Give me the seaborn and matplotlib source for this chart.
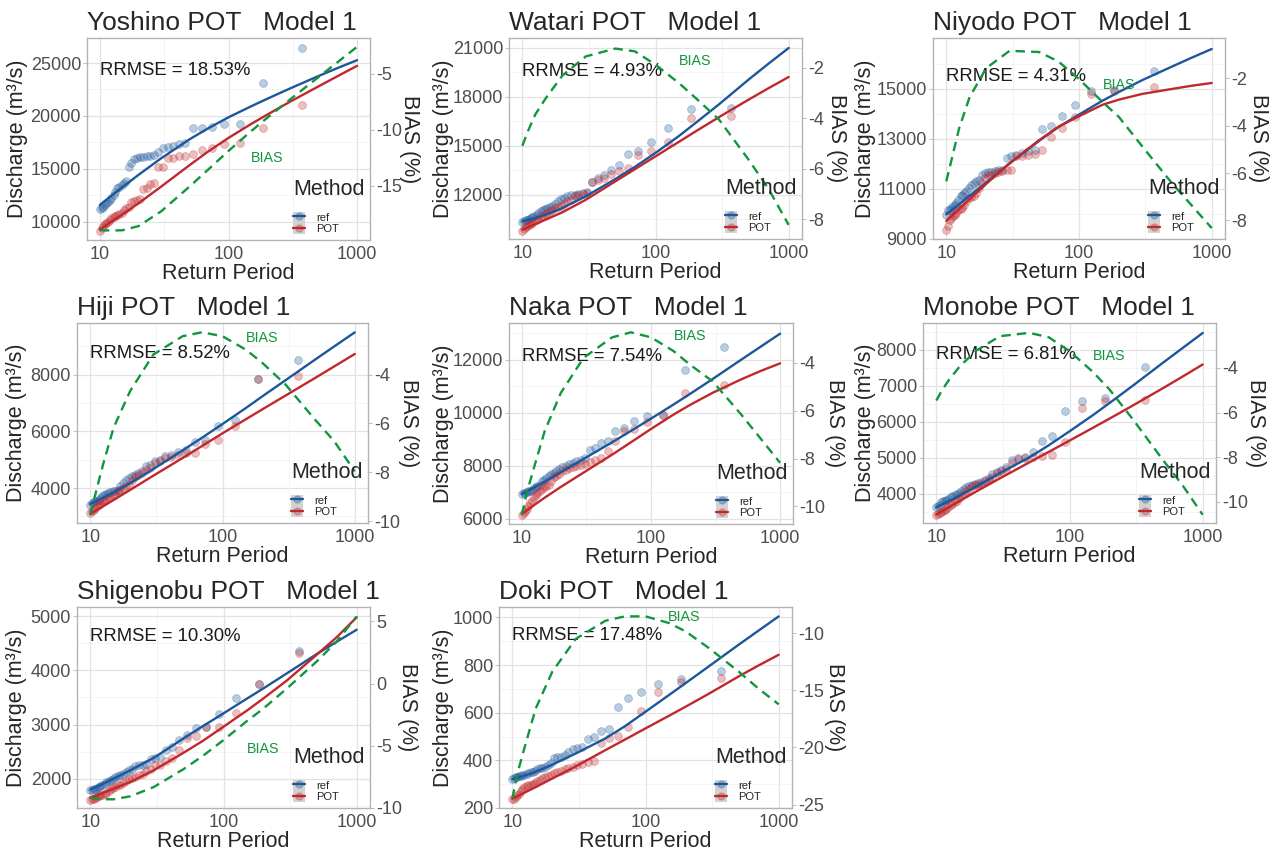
import matplotlib
matplotlib.use("Agg")
import matplotlib.pyplot as plt
import matplotlib.transforms as mtrans
from matplotlib.colors import to_rgba
from matplotlib.lines import Line2D
from matplotlib.patches import Patch
from matplotlib.ticker import FixedLocator, NullFormatter
import seaborn as sns

# return periods of the plotted POT sample (largest event first)
T_PTS = [370, 185, 123.3, 92.5, 74, 61.7, 52.9, 46.3, 41.1, 37, 33.6, 30.8, 28.5,
         26.4, 24.7, 23.1, 21.8, 20.6, 19.5, 18.5, 17.6, 16.8, 16.1, 15.4, 14.8,
         14.2, 13.7, 13.2, 12.8, 12.3, 11.9, 11.6, 11.2, 10.9, 10.6, 10.3, 10.0]
# return periods where the fitted curves were read
T_FIT = [10, 12.5, 15, 20, 30, 50, 70, 100, 150, 200, 300, 500, 700, 1000]
T_BIAS = [10, 11, 12.5, 15, 20, 30, 50, 70, 100, 150, 200, 300, 500, 700, 1000]

# Yoshino
yoshino_ref_pts = [26400, 23100, 19250, 19200, 18940, 18840, 18840, 17480, 17360, 17200, 17100, 17000, 16630,
                   16300, 16250, 16200, 16160, 16100, 16000, 15900, 15530, 15200, 13800, 13630, 13470,
                   13320, 13160, 12840, 12530, 12210, 12050, 11900, 11740, 11580, 11420, 11260, 11170]
yoshino_pot_pts = [21050, 18900, 17420, 17330, 16950, 16790, 16410, 16250, 16220, 16060, 16000, 15210, 15150,
                   13630, 13540, 13160, 13100, 12150, 12050, 11990, 11900, 11360, 11260, 11100, 10850,
                   10730, 10630, 10540, 10410, 10320, 10160, 10000, 9900, 9780, 9590, 9370, 9150]
yoshino_ref_fit = [11580, 12520, 13270, 14430, 16000, 17800, 18850, 19870, 20910, 21620, 22590, 23770,
                   24515, 25275]
yoshino_pot_fit = [9270, 10050, 10680, 11740, 13320, 15360, 16660, 17920, 19240, 20120, 21335, 22790,
                   23740, 24740]
yoshino_bias = [-18.93, -18.96, -18.98, -18.95, -18.58, -17.26, -15.04, -13.51, -11.88, -10.12, -8.93,
                -7.31, -5.31, -4.0, -2.6]

# Watari
watari_ref_pts = [17317, 17255, 16090, 15210, 14660, 14515, 13800, 13530, 13230, 13020, 12760, 12140, 12100,
                  12040, 12000, 11960, 11900, 11800, 11730, 11590, 11450, 11330, 11240, 11180, 11120,
                  11040, 10980, 10875, 10770, 10670, 10630, 10570, 10530, 10470, 10430, 10360, 10300]
watari_pot_pts = [16800, 16700, 15210, 14660, 14450, 13640, 13430, 13290, 13020, 12920, 12760, 12100, 12040,
                  11960, 11900, 11690, 11590, 11450, 11330, 11240, 11180, 11080, 10980, 10875, 10810,
                  10710, 10630, 10570, 10470, 10360, 10260, 10220, 10160, 10060, 10000, 9890, 9790]
watari_ref_fit = [10360, 10560, 10770, 11180, 11900, 12960, 13705, 14560, 15600, 16400, 17545, 19060,
                  20015, 21000]
watari_pot_fit = [9850, 10190, 10470, 10920, 11690, 12820, 13563, 14350, 15244, 15880, 16760, 17830,
                  18516, 19220]
watari_bias = [-5.09, -4.52, -3.85, -3.2, -2.3, -1.54, -1.23, -1.34, -1.87, -2.6, -3.19, -4.05, -5.64,
               -6.77, -8.23]

# Niyodo
niyodo_ref_pts = [15700, 14950, 14900, 14370, 13900, 13500, 13400, 12570, 12500, 12440, 12370, 12330, 12240,
                  11770, 11750, 11700, 11680, 11670, 11640, 11570, 11370, 11300, 11240, 11170, 11040,
                  10910, 10840, 10770, 10710, 10570, 10440, 10370, 10310, 10240, 10170, 10150, 9970]
niyodo_pot_pts = [15065, 14900, 14810, 13880, 13440, 13080, 12550, 12410, 12370, 12330, 12300, 11770, 11750,
                  11700, 11670, 11640, 11570, 11550, 11440, 11240, 11040, 10840, 10710, 10670, 10640,
                  10510, 10370, 10240, 10200, 10170, 10040, 9970, 9910, 9840, 9770, 9530, 9350]
niyodo_ref_fit = [9973, 10383, 10720, 11253, 12013, 12919, 13474, 13972, 14526, 14879, 15354, 15892,
                  16242, 16600]
niyodo_pot_fit = [9706, 10191, 10586, 11200, 12026, 12946, 13486, 13906, 14364, 14572, 14801, 14998,
                  15125, 15238]
niyodo_bias = [-6.35, -5.41, -4.11, -2.8, -1.58, -0.85, -0.9, -1.3, -2.04, -3.0, -3.64, -4.88, -6.42,
               -7.34, -8.32]

# Hiji
hiji_ref_pts = [8530, 7845, 6410, 6175, 5680, 5640, 5330, 5270, 5175, 5120, 5000, 4940, 4820,
                4760, 4590, 4530, 4450, 4410, 4350, 4290, 4180, 4060, 3940, 3910, 3880,
                3860, 3820, 3790, 3765, 3710, 3650, 3590, 3550, 3530, 3510, 3470, 3410]
hiji_pot_pts = [7940, 7830, 6175, 5705, 5560, 5235, 5235, 5175, 5090, 5060, 4940, 4880, 4700,
                4650, 4530, 4470, 4380, 4290, 4120, 4060, 4000, 3940, 3880, 3790, 3740,
                3670, 3650, 3590, 3550, 3530, 3470, 3410, 3350, 3290, 3240, 3180, 3120]
hiji_ref_fit = [3435, 3658, 3847, 4165, 4670, 5329, 5774, 6258, 6821, 7234, 7806, 8528, 8998, 9492]
hiji_pot_fit = [3080, 3354, 3576, 3930, 4435, 5060, 5482, 5930, 6425, 6775, 7264, 7880, 8292, 8730]
hiji_bias = [-9.73, -8.84, -7.68, -6.18, -4.68, -3.18, -2.43, -2.27, -2.43, -2.98, -3.52, -4.41, -5.84,
             -6.73, -7.96]

# Naka
naka_ref_pts = [12475, 11620, 9930, 9865, 9680, 9430, 9300, 8925, 8860, 8670, 8590, 8300, 8230,
                8170, 8110, 8070, 8010, 7945, 7880, 7795, 7730, 7690, 7630, 7545, 7480,
                7420, 7290, 7230, 7190, 7170, 7100, 7065, 7040, 7015, 6980, 6980, 6950]
naka_pot_pts = [11060, 10740, 9900, 9650, 9400, 9300, 8925, 8550, 8300, 8230, 8150, 8080, 8050,
                7980, 7945, 7920, 7860, 7795, 7690, 7605, 7580, 7420, 7290, 7255, 7190,
                7140, 7065, 6980, 6915, 6815, 6690, 6600, 6475, 6390, 6290, 6225, 6160]
naka_ref_fit = [6940, 7192, 7405, 7757, 8259, 8887, 9318, 9778, 10315, 10706, 11269, 11999, 12474, 12978]
naka_pot_fit = [6190, 6530, 6800, 7205, 7745, 8422, 8889, 9390, 9936, 10292, 10750, 11258, 11565, 11860]
naka_bias = [-10.35, -9.37, -8.32, -6.86, -5.26, -3.79, -2.93, -2.72, -2.93, -3.51, -4.07, -4.77, -6.16,
             -7.14, -8.18]

# Monobe
monobe_ref_pts = [7510, 6660, 6587, 6290, 5617, 5460, 5155, 5016, 4998, 4950, 4740, 4675, 4610,
                  4565, 4445, 4400, 4330, 4305, 4277, 4260, 4230, 4185, 4150, 4075, 4030,
                  4000, 3980, 3935, 3910, 3870, 3840, 3815, 3800, 3780, 3705, 3660, 3630]
monobe_pot_pts = [6596, 6587, 6383, 5440, 5070, 5060, 5030, 4998, 4970, 4860, 4690, 4630, 4580,
                  4460, 4400, 4350, 4290, 4260, 4240, 4210, 4150, 4075, 4000, 3935, 3890,
                  3815, 3780, 3720, 3685, 3630, 3590, 3565, 3540, 3500, 3475, 3445, 3430]
monobe_ref_fit = [3630, 3810, 3960, 4210, 4580, 5016, 5352, 5737, 6186, 6522, 7006, 7630, 8034, 8462]
monobe_pot_fit = [3430, 3639, 3809, 4072, 4433, 4877, 5169, 5479, 5835, 6090, 6456, 6927, 7245, 7589]
monobe_bias = [-5.46, -5.01, -4.52, -3.93, -3.22, -2.58, -2.43, -2.63, -3.25, -4.18, -4.97, -6.31, -8.1,
               -9.22, -10.57]

# Shigenobu
shigenobu_ref_pts = [4363, 3750, 3497, 3194, 2946, 2928, 2804, 2711, 2588, 2526, 2402, 2384, 2371,
                     2278, 2260, 2247, 2229, 2186, 2155, 2124, 2093, 2062, 2050, 2031, 2000,
                     1981, 1950, 1938, 1907, 1876, 1864, 1845, 1827, 1814, 1802, 1796, 1783]
shigenobu_pot_pts = [4320, 3750, 3206, 2946, 2946, 2792, 2742, 2526, 2384, 2322, 2260, 2247, 2186,
                     2136, 2093, 2062, 2031, 2012, 1988, 1950, 1926, 1889, 1876, 1845, 1827,
                     1802, 1765, 1740, 1722, 1703, 1690, 1672, 1660, 1641, 1629, 1616, 1610]
shigenobu_ref_fit = [1796, 1908, 2000, 2155, 2384, 2742, 2970, 3206, 3479, 3670, 3948, 4301, 4523, 4753]
shigenobu_pot_fit = [1647, 1738, 1814, 1938, 2155, 2476, 2698, 2959, 3258, 3485, 3816, 4289, 4603, 4982]
shigenobu_bias = [-9.17, -9.25, -9.3, -9.3, -9.06, -8.31, -6.88, -5.81, -4.54, -3.01, -1.99, -0.38, 1.77,
                  3.33, 5.4]

# Doki
doki_ref_pts = [775, 740, 719, 688, 663, 625, 530, 524, 499, 489, 457, 450, 447,
                436, 422, 415, 412, 408, 387, 380, 373, 368, 366, 363, 354,
                352, 349, 345, 342, 340, 338, 335, 333, 331, 328, 324, 321]
doki_pot_pts = [745, 730, 688, 608, 541, 502, 492, 471, 398, 394, 384, 380, 373,
                368, 363, 354, 352, 345, 340, 335, 330, 324, 319, 312, 307,
                302, 298, 295, 291, 287, 281, 270, 260, 253, 246, 239, 236]
doki_ref_fit = [321, 337, 352, 382, 429, 492, 543, 604, 674, 724, 795, 885, 943, 1004]
doki_pot_fit = [239, 266, 288, 324, 375, 443, 487, 534, 587, 625, 680, 752, 797, 843]
doki_bias = [-24.47, -22.13, -19.8, -16.58, -13.36, -10.5, -8.92, -8.54, -8.54, -9.12, -9.85, -11.32,
             -13.36, -14.82, -16.23]

STATIONS = ["Yoshino", "Watari", "Niyodo", "Hiji", "Naka", "Monobe", "Shigenobu", "Doki"]
RRMSE = ["18.53%", "4.93%", "4.31%", "8.52%", "7.54%", "6.81%", "10.30%", "17.48%"]
Y_TICKS = [[10000, 15000, 20000, 25000], [12000, 15000, 18000, 21000], [9000, 11000, 13000, 15000],
           [4000, 6000, 8000], [6000, 8000, 10000, 12000], [4000, 5000, 6000, 7000, 8000],
           [2000, 3000, 4000, 5000], [200, 400, 600, 800, 1000]]
Y2_TICKS = [[-15, -10, -5], [-8, -6, -4, -2], [-8, -6, -4, -2], [-10, -8, -6, -4], [-10, -8, -6, -4],
            [-10, -8, -6, -4], [-10, -5, 0, 5], [-25, -20, -15, -10]]

data = {
    "Yoshino": (yoshino_ref_pts, yoshino_pot_pts, yoshino_ref_fit, yoshino_pot_fit, yoshino_bias),
    "Watari": (watari_ref_pts, watari_pot_pts, watari_ref_fit, watari_pot_fit, watari_bias),
    "Niyodo": (niyodo_ref_pts, niyodo_pot_pts, niyodo_ref_fit, niyodo_pot_fit, niyodo_bias),
    "Hiji": (hiji_ref_pts, hiji_pot_pts, hiji_ref_fit, hiji_pot_fit, hiji_bias),
    "Naka": (naka_ref_pts, naka_pot_pts, naka_ref_fit, naka_pot_fit, naka_bias),
    "Monobe": (monobe_ref_pts, monobe_pot_pts, monobe_ref_fit, monobe_pot_fit, monobe_bias),
    "Shigenobu": (shigenobu_ref_pts, shigenobu_pot_pts, shigenobu_ref_fit, shigenobu_pot_fit, shigenobu_bias),
    "Doki": (doki_ref_pts, doki_pot_pts, doki_ref_fit, doki_pot_fit, doki_bias),
}

# layout in pixels: panel box (l, r, t, b), ylabel x, y2label x, axis limits, text positions
LAYOUT = {
    "Yoshino": dict(box=(87, 370, 38, 240), ylab=18, y2lab=410, ylim=(8263, 27370), y2lim=(-19.82, -1.82),
                    rr_y=0.84, bias_xy=(200, 16000)),
    "Watari": dict(box=(509, 802, 38, 239), ylab=443, y2lab=836, ylim=(9280, 21612), y2lim=(-8.79, -0.81),
                   rr_y=0.834, bias_xy=(200, 20220)),
    "Niyodo": dict(box=(933, 1225, 38, 239), ylab=865, y2lab=1258, ylim=(8990, 17040), y2lim=(-8.78, -0.31),
                   rr_y=0.806, bias_xy=(200, 15170)),
    "Hiji": dict(box=(77, 368, 323, 523), ylab=17, y2lab=409, ylim=(2765, 9823), y2lim=(-10.07, -1.89),
                 rr_y=0.845, bias_xy=(200, 9290)),
    "Naka": dict(box=(509, 793, 323, 524), ylab=443, y2lab=834, ylim=(5810, 13380), y2lim=(-10.74, -2.33),
                 rr_y=0.834, bias_xy=(200, 12880)),
    "Monobe": dict(box=(923, 1216, 323, 523), ylab=865, y2lab=1255, ylim=(3196, 8739), y2lim=(-10.94, -1.99),
                   rr_y=0.842, bias_xy=(197, 7815)),
    "Shigenobu": dict(box=(77, 370, 607, 808), ylab=17, y2lab=407, ylim=(1456, 5173), y2lim=(-10.0, 6.16),
                      rr_y=0.854, bias_xy=(200, 2538)),
    "Doki": dict(box=(499, 792, 607, 808), ylab=443, y2lab=835, ylim=(200, 1043.5), y2lim=(-25.29, -7.72),
                 rr_y=0.857, bias_xy=(195, 1000)),
}

REF_C = "#1B579A"
POT_C = "#C0282C"
BIAS_C = "#11963E"
GRID_C = "#E3E3E3"
BORDER_C = "#B3B3B3"
TICKLAB_C = "#4D4D4D"

sns.set_style("white")
plt.rcParams["font.family"] = ["Liberation Sans", "DejaVu Sans"]
plt.rcParams["axes.unicode_minus"] = False

W, H = 1272, 852
fig = plt.figure(figsize=(W / 100, H / 100), dpi=100)

for i, name in enumerate(STATIONS):
    ref_pts, pot_pts, ref_fit, pot_fit, bias = data[name]
    lay = LAYOUT[name]
    l, r, t, b = lay["box"]
    ax = fig.add_axes([l / W, 1 - b / H, (r - l) / W, (b - t) / H])
    ax.set_xscale("log")

    sns.scatterplot(x=T_PTS, y=ref_pts, ax=ax, color=REF_C, alpha=0.3, s=32,
                    edgecolor=REF_C, linewidth=0.6, zorder=2)
    sns.scatterplot(x=T_PTS, y=pot_pts, ax=ax, color=POT_C, alpha=0.3, s=32,
                    edgecolor=POT_C, linewidth=0.6, zorder=2)
    sns.lineplot(x=T_FIT, y=ref_fit, ax=ax, color=REF_C, lw=1.7, zorder=3)
    sns.lineplot(x=T_FIT, y=pot_fit, ax=ax, color=POT_C, lw=1.7, zorder=3)

    ax.set_xlim(10 ** 0.9, 10 ** 3.1)
    ax.set_ylim(*lay["ylim"])
    ax.set_xticks([10, 100, 1000], labels=["10", "100", "1000"])
    ax.xaxis.set_minor_locator(FixedLocator([10 ** 1.5, 10 ** 2.5]))
    ax.xaxis.set_minor_formatter(NullFormatter())
    yt = Y_TICKS[i]
    ax.set_yticks(yt, labels=[str(v) for v in yt])
    step = yt[1] - yt[0]
    ax.yaxis.set_minor_locator(FixedLocator([v + step / 2 for v in [yt[0] - step] + yt]))

    ax.set_axisbelow(True)
    ax.grid(which="major", color=GRID_C, lw=0.9)
    ax.grid(which="minor", color="#F0F0F0", lw=0.5)
    for s in ax.spines.values():
        s.set_color(BORDER_C)
        s.set_linewidth(1.0)
    ax.tick_params(which="major", length=2.8, width=0.6, color=BORDER_C, labelcolor=TICKLAB_C,
                   labelsize=13, pad=1.5)
    ax.tick_params(which="minor", length=0)

    ax.set_title(f"{name} POT   Model 1", loc="left", fontsize=19, pad=6)
    ax.set_xlabel("Return Period", fontsize=15.5, labelpad=0)
    ax.set_ylabel("Discharge (m³/s)", fontsize=15.5)
    ax.yaxis.label.set_va("center")
    ax.yaxis.set_label_coords((lay["ylab"] - l) / (r - l), 0.5)

    tr = mtrans.blended_transform_factory(ax.transData, ax.transAxes)
    ax.text(10, lay["rr_y"], f"RRMSE = {RRMSE[i]}", transform=tr, ha="left", va="center",
            fontsize=13.3, color="#1A1A1A")
    bx, by = lay["bias_xy"]
    ax.text(bx, by, "BIAS", ha="center", va="center", fontsize=10.3, color=BIAS_C, zorder=4)

    ax2 = ax.twinx()
    sns.lineplot(x=T_BIAS, y=bias, ax=ax2, color=BIAS_C, lw=1.7, linestyle=(0, (4, 2.6)))
    ax2.set_ylim(*lay["y2lim"])
    ax2.set_xlim(10 ** 0.9, 10 ** 3.1)
    y2t = Y2_TICKS[i]
    ax2.set_yticks(y2t, labels=[str(v) for v in y2t])
    ax2.tick_params(which="major", length=2.8, width=0.6, color=BORDER_C, labelcolor=TICKLAB_C,
                    labelsize=13, pad=1.5)
    for s in ax2.spines.values():
        s.set_visible(False)
    ax2.set_ylabel("BIAS (%)", fontsize=15.5, rotation=270)
    ax2.yaxis.label.set_va("center")
    ax2.yaxis.label.set_ha("center")
    ax2.yaxis.set_label_coords((lay["y2lab"] - l) / (r - l), 0.5)

    handles = [
        (Patch(facecolor="#D2D2D2", edgecolor="none"),
         Line2D([], [], color=REF_C, lw=1.7, marker="o", ms=5,
                mfc=to_rgba(REF_C, 0.3), mec=to_rgba(REF_C, 0.3))),
        (Patch(facecolor="#D2D2D2", edgecolor="none"),
         Line2D([], [], color=POT_C, lw=1.7, marker="o", ms=5,
                mfc=to_rgba(POT_C, 0.3), mec=to_rgba(POT_C, 0.3))),
    ]
    leg = ax2.legend(handles, ["ref", "POT"], title="Method", loc="lower right", frameon=False,
                     fontsize=8, title_fontsize=15.5, handlelength=1.1, handleheight=1.2,
                     labelspacing=0, handletextpad=1.0, borderaxespad=0.3, borderpad=0.2,
                     alignment="left")
    leg._legend_box.sep = 8  # gap between the title and the keys

fig.savefig("out.png", dpi=100)
